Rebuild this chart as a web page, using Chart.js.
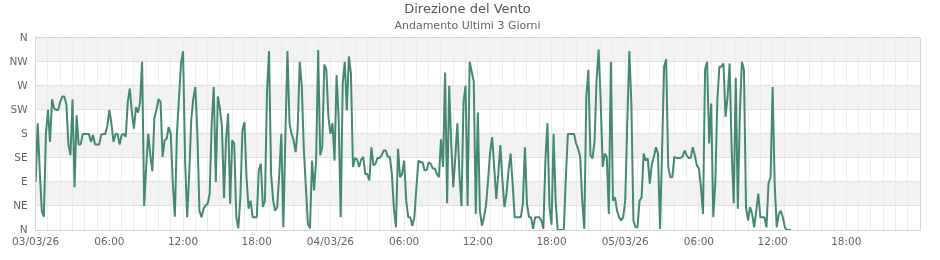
<!DOCTYPE html>
<html lang="it">
<head>
  <meta charset="UTF-8">
  <title>Direzione del Vento</title>
  <script src="https://cdn.jsdelivr.net/npm/chart.js"></script>
  <style>
    html, body { margin: 0; padding: 0; background: #fff; }
  </style>
</head>
<body>
  <canvas id="chart" width="940" height="260"></canvas>

  <script>
    // wind direction in degrees, one reading every 10 minutes
    const dayOne = [
      90, 200, 110, 35, 25, 180, 225, 165, 245, 228, 225, 225,
      240, 250, 250, 235, 160, 140, 245, 80, 215, 160, 160, 180,
      180, 180, 180, 165, 178, 160, 160, 160, 178, 180, 180, 195,
      225, 200, 165, 180, 180, 160, 178, 180, 175, 240, 265, 220,
      190, 230, 220, 240, 315, 45, 120, 180, 140, 110, 210, 225,
      245, 240, 137, 168, 171, 193, 180, 87, 25, 180, 246, 312,
      335, 130, 24, 105, 206, 246, 268, 180, 36, 24, 40, 46,
      49, 68, 200, 268, 90, 250, 228, 193, 60, 170, 218, 49,
      168, 162, 24, 3, 61, 187, 202, 99, 40, 55, 24, 24,
      24, 112, 124, 43, 55, 259, 335, 105, 55, 36, 43, 105,
      180, 5, 180, 335, 200, 180, 168, 146, 190, 315, 270, 150,
      80, 11, 3, 130, 74, 130, 337, 140, 155, 310, 300, 212
    ];
    const dayTwo = [
      180, 200, 130, 290, 210, 24, 275, 315, 224, 325, 293, 118,
      135, 132, 118, 132, 137, 105, 105, 93, 155, 121, 124, 135,
      135, 140, 149, 149, 137, 137, 105, 40, 5, 152, 99, 105,
      130, 55, 24, 24, 8, 24, 80, 130, 127, 127, 112, 112,
      127, 124, 115, 115, 105, 99, 170, 118, 295, 50, 270, 162,
      80, 137, 200, 105, 45, 240, 270, 45, 315, 297, 278, 30,
      220, 36, 8, 24, 46, 93, 146, 174, 118, 58, 105, 159,
      93, 43, 68, 112, 143, 87, 24, 24, 24, 24, 49, 155,
      49, 24, 24, 2, 24, 24, 24, 18, 2, 130, 200, 43,
      10, 180, 55, 0, 0, 0, 0, 100, 180, 180, 180, 180,
      162, 152, 137, 55, 2, 250, 300, 140, 134, 165, 280, 338,
      243, 118, 143, 137, 30, 315, 55, 61, 36, 24, 18, 24
    ];
    const dayThree = [
      55, 200, 335, 237, 18, 5, 5, 55, 61, 143, 130, 134,
      87, 124, 137, 155, 143, 2, 149, 306, 320, 118, 99, 99,
      137, 135, 135, 135, 137, 149, 140, 135, 135, 155, 140, 121,
      115, 80, 30, 300, 315, 162, 237, 24, 87, 243, 306, 306,
      312, 212, 250, 312, 149, 50, 285, 40, 220, 315, 300, 43,
      18, 43, 30, 5, 36, 68, 24, 24, 24, 5, 87, 99,
      268, 87, 5, 30, 36, 24, 5, 0, 0, 0
    ];

    const dirLabels = ['N', 'NE', 'E', 'SE', 'S', 'SW', 'W', 'NW', 'N'];
    const timeLabels = [
      '03/03/26', '06:00', '12:00', '18:00',
      '04/03/26', '06:00', '12:00', '18:00',
      '05/03/26', '06:00', '12:00', '18:00'
    ];

    const FONT = 'DejaVu Sans';
    const totalHours = 72;

    // x is hours from 03/03/26 00:00
    const points = [];
    [dayOne, dayTwo, dayThree].forEach((vals, d) => {
      vals.forEach((v, i) => points.push({ x: d * 24 + i / 6, y: v }));
    });

    const hourTicks = [];
    for (let h = 0; h <= totalHours; h++) hourTicks.push(h);

    // alternating grey bands every other sector
    const bands = {
      id: 'bands',
      beforeDraw(chart) {
        const { ctx, chartArea: a, scales: { y } } = chart;
        ctx.save();
        ctx.fillStyle = '#f2f2f2';
        for (let k = 1; k < dirLabels.length - 1; k += 2) {
          const top = y.getPixelForValue((k + 1) * 45);
          const bottom = y.getPixelForValue(k * 45);
          ctx.fillRect(a.left, top, a.right - a.left, bottom - top);
        }
        ctx.restore();
      }
    };

    new Chart(document.getElementById('chart'), {
      type: 'line',
      data: {
        datasets: [{
          data: points,
          borderColor: '#458a6f',
          borderWidth: 2,
          borderJoinStyle: 'bevel',
          pointRadius: 0,
          tension: 0,
          fill: false
        }]
      },
      options: {
        responsive: false,
        animation: false,
        events: [],
        layout: { padding: { left: 0, right: 5, top: 0, bottom: 0 } },
        plugins: {
          legend: { display: false },
          tooltip: { enabled: false },
          title: {
            display: true,
            text: 'Direzione del Vento',
            color: '#555',
            font: { family: FONT, size: 13, weight: 'normal' },
            padding: { top: 2, bottom: 0 }
          },
          subtitle: {
            display: true,
            text: 'Andamento Ultimi 3 Giorni',
            color: '#666',
            font: { family: FONT, size: 11 },
            padding: { top: 2, bottom: 5 }
          }
        },
        scales: {
          x: {
            type: 'linear',
            min: 0,
            max: totalHours,
            afterBuildTicks: (s) => { s.ticks = hourTicks.map((v) => ({ value: v })); },
            afterFit: (s) => { s.height = 30; },
            grid: {
              drawTicks: false,
              color: (c) => (c.tick && c.tick.value === totalHours ? '#d6d6d6' : '#ebebf8')
            },
            border: { color: '#d6d6d6' },
            ticks: {
              autoSkip: false,
              maxRotation: 0,
              padding: 6,
              color: '#666',
              font: { family: FONT, size: 10.5 },
              callback: (v) => (v % 6 === 0 ? (timeLabels[v / 6] || '') : '')
            }
          },
          y: {
            min: 0,
            max: 360,
            afterBuildTicks: (s) => { s.ticks = dirLabels.map((_, k) => ({ value: k * 45 })); },
            afterFit: (s) => { s.width = 35.67; },
            grid: {
              drawTicks: false,
              color: (c) => (c.tick && c.tick.value === 360 ? '#d6d6d6' : '#e2e2e2')
            },
            border: { color: '#d6d6d6' },
            ticks: {
              padding: 8,
              color: '#666',
              font: { family: FONT, size: 10.5 },
              callback: (v) => dirLabels[v / 45]
            }
          },
          // empty strip on the right so the plot ends where the original does
          spacer: {
            position: 'right',
            min: 0,
            max: 1,
            afterFit: (s) => { s.width = 15; },
            grid: { display: false },
            border: { display: false },
            ticks: { display: false }
          }
        }
      },
      plugins: [bands]
    });
  </script>
</body>
</html>
